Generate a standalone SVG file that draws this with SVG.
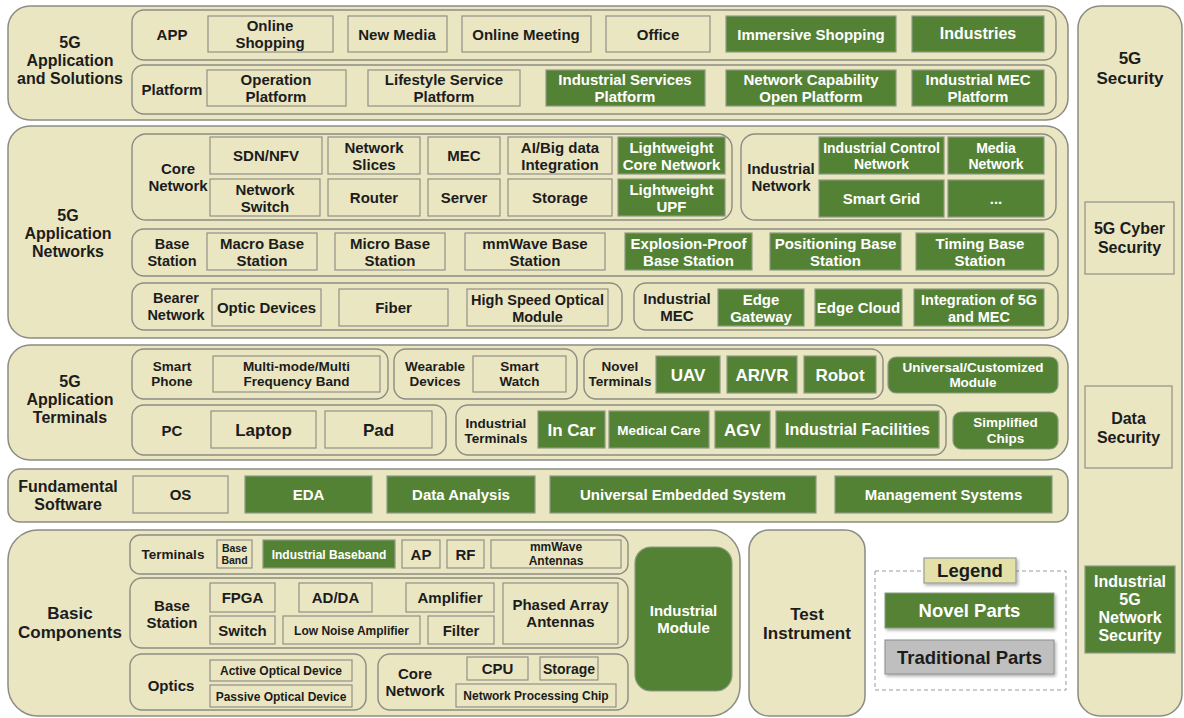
<svg xmlns="http://www.w3.org/2000/svg" width="1184" height="718" viewBox="0 0 1184 718">
<style>
.sec{fill:#EAE6C2;stroke:#8c8c84;stroke-width:1.5}
.row{fill:#EAE6C2;stroke:#8c8c84;stroke-width:1.4}
.box{fill:#EAE6C2;stroke:#919189;stroke-width:1.2}
.g{fill:#548235;stroke:#8c9a84;stroke-width:1.2}
text{font-family:"Liberation Sans",Arial,sans-serif;font-weight:bold;font-size:15px;fill:#1c1c1c;text-anchor:middle}
.w{fill:#ffffff}
.s12{font-size:12px}
.s125{font-size:12.5px}
.s135{font-size:13.5px}
.s14{font-size:14px}
.s145{font-size:14.5px}
.s10{font-size:10.5px}
.s16{font-size:16px}
.s17{font-size:17px}
.s18{font-size:18px}
.s185{font-size:18.5px}
</style>
<defs>
<filter id="sh" x="-10%" y="-10%" width="130%" height="140%">
<feDropShadow dx="1.5" dy="2" stdDeviation="1.5" flood-color="#000" flood-opacity="0.3"/>
</filter>
</defs>
<rect width="1184" height="718" fill="#ffffff"/>

<!-- 5G Application and Solutions -->
<g id="solutions">
<rect class="sec" x="8" y="6" width="1060" height="114" rx="22"/>
<text class="s16"><tspan x="70" y="48">5G</tspan><tspan x="70" y="66">Application</tspan><tspan x="70" y="84">and Solutions</tspan></text>
</g>
<g id="app-row">
<rect class="row" x="132" y="10" width="924" height="50" rx="12"/>
<text x="172" y="40">APP</text>
</g>
<g id="online-shopping"><rect class="box" x="208" y="16" width="125" height="36"/><text><tspan x="270" y="31">Online</tspan><tspan x="270" y="48">Shopping</tspan></text></g>
<g id="new-media"><rect class="box" x="348" y="16" width="99" height="36"/><text x="397" y="39.5">New Media</text></g>
<g id="online-meeting"><rect class="box" x="462" y="16" width="129" height="36"/><text x="526" y="39.5">Online Meeting</text></g>
<g id="office"><rect class="box" x="606" y="16" width="104" height="36"/><text x="658" y="39.5">Office</text></g>
<g id="immersive-shopping"><rect class="g" x="726" y="16" width="170" height="36"/><text class="w" x="811" y="39.5">Immersive Shopping</text></g>
<g id="industries"><rect class="g" x="912" y="16" width="132" height="36"/><text class="w s16" x="978" y="38.5">Industries</text></g>
<g id="platform-row">
<rect class="row" x="132" y="65" width="924" height="49" rx="12"/>
<text x="172" y="94.5">Platform</text>
</g>
<g id="operation-platform"><rect class="box" x="207" y="70" width="139" height="36"/><text><tspan x="276" y="85">Operation</tspan><tspan x="276" y="102">Platform</tspan></text></g>
<g id="lifestyle-platform"><rect class="box" x="368" y="70" width="152" height="36"/><text><tspan x="444" y="85">Lifestyle Service</tspan><tspan x="444" y="102">Platform</tspan></text></g>
<g id="industrial-services-platform"><rect class="g" x="546" y="70" width="159" height="36"/><text class="w"><tspan x="625" y="85">Industrial Services</tspan><tspan x="625" y="102">Platform</tspan></text></g>
<g id="network-capability-platform"><rect class="g" x="726" y="70" width="170" height="36"/><text class="w"><tspan x="811" y="85">Network Capability</tspan><tspan x="811" y="102">Open Platform</tspan></text></g>
<g id="industrial-mec-platform"><rect class="g" x="912" y="70" width="132" height="36"/><text class="w"><tspan x="978" y="85">Industrial MEC</tspan><tspan x="978" y="102">Platform</tspan></text></g>

<!-- 5G Application Networks -->
<g id="networks">
<rect class="sec" x="8" y="126" width="1060" height="212" rx="22"/>
<text class="s16"><tspan x="68" y="221">5G</tspan><tspan x="68" y="239">Application</tspan><tspan x="68" y="257">Networks</tspan></text>
</g>
<g id="core-network-row">
<rect class="row" x="132" y="134" width="600" height="86" rx="14"/>
<text><tspan x="178" y="174">Core</tspan><tspan x="178" y="191">Network</tspan></text>
</g>
<g id="sdn-nfv"><rect class="box" x="210" y="137" width="112" height="37"/><text x="266" y="161">SDN/NFV</text></g>
<g id="network-slices"><rect class="box" x="328" y="137" width="92" height="37"/><text><tspan x="374" y="152.5">Network</tspan><tspan x="374" y="169.5">Slices</tspan></text></g>
<g id="mec"><rect class="box" x="428" y="137" width="72" height="37"/><text x="464" y="161">MEC</text></g>
<g id="ai-bigdata"><rect class="box" x="508" y="137" width="104" height="37"/><text><tspan x="560" y="152.5">AI/Big data</tspan><tspan x="560" y="169.5">Integration</tspan></text></g>
<g id="lightweight-core"><rect class="g" x="618" y="137" width="107" height="37"/><text class="w"><tspan x="671.5" y="152.5">Lightweight</tspan><tspan x="671.5" y="169.5">Core Network</tspan></text></g>
<g id="network-switch"><rect class="box" x="210" y="179" width="110" height="37"/><text><tspan x="265" y="194.5">Network</tspan><tspan x="265" y="211.5">Switch</tspan></text></g>
<g id="router"><rect class="box" x="328" y="179" width="92" height="37"/><text x="374" y="203">Router</text></g>
<g id="server"><rect class="box" x="428" y="179" width="72" height="37"/><text x="464" y="203">Server</text></g>
<g id="storage-net"><rect class="box" x="508" y="179" width="104" height="37"/><text x="560" y="203">Storage</text></g>
<g id="lightweight-upf"><rect class="g" x="618" y="179" width="107" height="37"/><text class="w"><tspan x="671.5" y="194.5">Lightweight</tspan><tspan x="671.5" y="211.5">UPF</tspan></text></g>

<g id="industrial-network-row">
<rect class="row" x="741" y="134" width="315" height="86" rx="14"/>
<text><tspan x="781" y="174">Industrial</tspan><tspan x="781" y="191">Network</tspan></text>
</g>
<g id="industrial-control-network"><rect class="g" x="819" y="137" width="125" height="37"/><text class="w s14"><tspan x="881.5" y="152.5">Industrial Control</tspan><tspan x="881.5" y="169">Network</tspan></text></g>
<g id="media-network"><rect class="g" x="948" y="137" width="96" height="37"/><text class="w s14"><tspan x="996" y="152.5">Media</tspan><tspan x="996" y="169">Network</tspan></text></g>
<g id="smart-grid"><rect class="g" x="819" y="180" width="125" height="37"/><text class="w" x="881.5" y="204">Smart Grid</text></g>
<g id="more-networks"><rect class="g" x="948" y="180" width="96" height="37"/><text class="w" x="996" y="204">...</text></g>

<g id="base-station-row">
<rect class="row" x="132" y="229" width="926" height="47" rx="12"/>
<text class="s145"><tspan x="172" y="248.5">Base</tspan><tspan x="172" y="265.5">Station</tspan></text>
</g>
<g id="macro-bs"><rect class="box" x="207" y="233" width="110" height="37"/><text><tspan x="262" y="248.5">Macro Base</tspan><tspan x="262" y="265.5">Station</tspan></text></g>
<g id="micro-bs"><rect class="box" x="335" y="233" width="110" height="37"/><text><tspan x="390" y="248.5">Micro Base</tspan><tspan x="390" y="265.5">Station</tspan></text></g>
<g id="mmwave-bs"><rect class="box" x="465" y="233" width="140" height="37"/><text><tspan x="535" y="248.5">mmWave Base</tspan><tspan x="535" y="265.5">Station</tspan></text></g>
<g id="explosion-proof-bs"><rect class="g" x="625" y="233" width="127" height="37"/><text class="w"><tspan x="688.5" y="248.5">Explosion-Proof</tspan><tspan x="688.5" y="265.5">Base Station</tspan></text></g>
<g id="positioning-bs"><rect class="g" x="770" y="233" width="131" height="37"/><text class="w"><tspan x="835.5" y="248.5">Positioning Base</tspan><tspan x="835.5" y="265.5">Station</tspan></text></g>
<g id="timing-bs"><rect class="g" x="916" y="233" width="128" height="37"/><text class="w"><tspan x="980" y="248.5">Timing Base</tspan><tspan x="980" y="265.5">Station</tspan></text></g>

<g id="bearer-row">
<rect class="row" x="132" y="283" width="490" height="47" rx="12"/>
<text class="s145"><tspan x="176" y="303">Bearer</tspan><tspan x="176" y="320">Network</tspan></text>
</g>
<g id="optic-devices"><rect class="box" x="212" y="289" width="109" height="37"/><text x="266.5" y="313">Optic Devices</text></g>
<g id="fiber"><rect class="box" x="339" y="289" width="109" height="37"/><text x="393.5" y="313">Fiber</text></g>
<g id="hs-optical-module"><rect class="box" x="467" y="289" width="141" height="37"/><text class="s145"><tspan x="537.5" y="304.5">High Speed Optical</tspan><tspan x="537.5" y="321.5">Module</tspan></text></g>

<g id="industrial-mec-row">
<rect class="row" x="634" y="283" width="424" height="47" rx="12"/>
<text><tspan x="677" y="303.5">Industrial</tspan><tspan x="677" y="320.5">MEC</tspan></text>
</g>
<g id="edge-gateway"><rect class="g" x="718" y="289" width="86" height="37"/><text class="w"><tspan x="761" y="304.5">Edge</tspan><tspan x="761" y="321.5">Gateway</tspan></text></g>
<g id="edge-cloud"><rect class="g" x="815" y="289" width="87" height="37"/><text class="w" x="858.5" y="313">Edge Cloud</text></g>
<g id="integration-5g-mec"><rect class="g" x="914" y="289" width="130" height="37"/><text class="w s145"><tspan x="979" y="304.5">Integration of 5G</tspan><tspan x="979" y="321.5">and MEC</tspan></text></g>

<!-- 5G Application Terminals -->
<g id="terminals">
<rect class="sec" x="8" y="345" width="1060" height="115" rx="22"/>
<text class="s16"><tspan x="70" y="387">5G</tspan><tspan x="70" y="405">Application</tspan><tspan x="70" y="423">Terminals</tspan></text>
</g>
<g id="smart-phone-row">
<rect class="row" x="132" y="349" width="256" height="50" rx="12"/>
<text class="s135"><tspan x="172" y="370.5">Smart</tspan><tspan x="172" y="386">Phone</tspan></text>
</g>
<g id="multi-mode"><rect class="box" x="213" y="356" width="167" height="36"/><text class="s135"><tspan x="296.5" y="370.5">Multi-mode/Multi</tspan><tspan x="296.5" y="386">Frequency Band</tspan></text></g>
<g id="wearable-row">
<rect class="row" x="394" y="349" width="183" height="50" rx="12"/>
<text class="s135"><tspan x="435" y="370.5">Wearable</tspan><tspan x="435" y="386">Devices</tspan></text>
</g>
<g id="smart-watch"><rect class="box" x="473" y="356" width="93" height="36"/><text class="s135"><tspan x="519.5" y="370.5">Smart</tspan><tspan x="519.5" y="386">Watch</tspan></text></g>
<g id="novel-terminals-row">
<rect class="row" x="584" y="349" width="299" height="50" rx="12"/>
<text class="s135"><tspan x="620" y="370.5">Novel</tspan><tspan x="620" y="386">Terminals</tspan></text>
</g>
<g id="uav"><rect class="g" x="656" y="356" width="64" height="37"/><text class="w s17" x="688" y="380.5">UAV</text></g>
<g id="ar-vr"><rect class="g" x="727" y="356" width="70" height="37"/><text class="w s17" x="762" y="380.5">AR/VR</text></g>
<g id="robot"><rect class="g" x="804" y="356" width="72" height="37"/><text class="w s17" x="840" y="380.5">Robot</text></g>
<g id="universal-module"><rect class="g" x="888" y="357" width="170" height="36" rx="8"/><text class="w s135"><tspan x="973" y="371.5">Universal/Customized</tspan><tspan x="973" y="387">Module</tspan></text></g>
<g id="pc-row">
<rect class="row" x="132" y="405" width="314" height="50" rx="12"/>
<text x="172" y="435.5">PC</text>
</g>
<g id="laptop"><rect class="box" x="211" y="411" width="105" height="37"/><text class="s17" x="263.5" y="435.5">Laptop</text></g>
<g id="pad"><rect class="box" x="325" y="411" width="107" height="37"/><text class="s17" x="378.5" y="435.5">Pad</text></g>
<g id="industrial-terminals-row">
<rect class="row" x="456" y="405" width="490" height="50" rx="12"/>
<text class="s135"><tspan x="496" y="427.5">Industrial</tspan><tspan x="496" y="443">Terminals</tspan></text>
</g>
<g id="in-car"><rect class="g" x="538" y="411" width="67" height="37"/><text class="w s17" x="571.5" y="435.5">In Car</text></g>
<g id="medical-care"><rect class="g" x="609" y="411" width="100" height="37"/><text class="w s135" x="659" y="434.5">Medical Care</text></g>
<g id="agv"><rect class="g" x="715" y="411" width="55" height="37"/><text class="w s17" x="742.5" y="435.5">AGV</text></g>
<g id="industrial-facilities"><rect class="g" x="776" y="411" width="163" height="37"/><text class="w s16" x="857.5" y="435">Industrial Facilities</text></g>
<g id="simplified-chips"><rect class="g" x="953" y="412" width="105" height="37" rx="8"/><text class="w s135"><tspan x="1005.5" y="427">Simplified</tspan><tspan x="1005.5" y="442.5">Chips</tspan></text></g>

<!-- Fundamental Software -->
<g id="fundamental-software">
<rect class="sec" x="8" y="469" width="1060" height="53" rx="12"/>
<text class="s16"><tspan x="68" y="492">Fundamental</tspan><tspan x="68" y="510">Software</tspan></text>
</g>
<g id="os"><rect class="box" x="133" y="476" width="95" height="37"/><text x="180.5" y="500">OS</text></g>
<g id="eda"><rect class="g" x="245" y="476" width="127" height="37"/><text class="w" x="308.5" y="500">EDA</text></g>
<g id="data-analysis"><rect class="g" x="387" y="476" width="148" height="37"/><text class="w" x="461" y="500">Data Analysis</text></g>
<g id="universal-embedded"><rect class="g" x="550" y="476" width="266" height="37"/><text class="w" x="683" y="500">Universal Embedded System</text></g>
<g id="management-systems"><rect class="g" x="835" y="476" width="217" height="37"/><text class="w" x="943.5" y="500">Management Systems</text></g>

<!-- Basic Components -->
<g id="basic-components">
<rect class="sec" x="8" y="530" width="732" height="186" rx="30"/>
<text class="s17"><tspan x="70" y="619">Basic</tspan><tspan x="70" y="638">Components</tspan></text>
</g>
<g id="bc-terminals-row">
<rect class="row" x="130" y="535" width="498" height="39" rx="10"/>
<text class="s135" x="173" y="558.5">Terminals</text>
</g>
<g id="base-band"><rect class="box" x="217" y="540" width="35" height="28"/><text class="s10"><tspan x="234.5" y="551.5">Base</tspan><tspan x="234.5" y="563.5">Band</tspan></text></g>
<g id="industrial-baseband"><rect class="g" x="263" y="540" width="132" height="28"/><text class="w s12" x="329" y="558.5">Industrial Baseband</text></g>
<g id="ap"><rect class="box" x="402" y="540" width="38" height="28"/><text x="421" y="559.5">AP</text></g>
<g id="rf"><rect class="box" x="447" y="540" width="37" height="28"/><text x="465.5" y="559.5">RF</text></g>
<g id="mmwave-antennas"><rect class="box" x="491" y="540" width="130" height="28"/><text class="s12"><tspan x="556" y="551">mmWave</tspan><tspan x="556" y="565">Antennas</tspan></text></g>
<g id="bc-base-station-row">
<rect class="row" x="130" y="578" width="498" height="70" rx="12"/>
<text><tspan x="172" y="611">Base</tspan><tspan x="172" y="628">Station</tspan></text>
</g>
<g id="fpga"><rect class="box" x="210" y="583" width="65" height="29"/><text x="242.5" y="603">FPGA</text></g>
<g id="ad-da"><rect class="box" x="299" y="583" width="73" height="29"/><text x="335.5" y="603">AD/DA</text></g>
<g id="amplifier"><rect class="box" x="406" y="583" width="88" height="29"/><text x="450" y="603">Amplifier</text></g>
<g id="switch"><rect class="box" x="210" y="616" width="65" height="28"/><text x="242.5" y="635.5">Switch</text></g>
<g id="lna"><rect class="box" x="283" y="616" width="137" height="28"/><text class="s12" x="351.5" y="634.5">Low Noise Amplifier</text></g>
<g id="filter"><rect class="box" x="428" y="616" width="66" height="28"/><text x="461" y="635.5">Filter</text></g>
<g id="phased-array"><rect class="box" x="503" y="583" width="115" height="61"/><text><tspan x="560.5" y="610">Phased Array</tspan><tspan x="560.5" y="627">Antennas</tspan></text></g>
<g id="optics-row">
<rect class="row" x="130" y="654" width="236" height="56" rx="12"/>
<text x="171" y="690.5">Optics</text>
</g>
<g id="active-optical"><rect class="box" x="210" y="660" width="142" height="21"/><text class="s12" x="281" y="674.5">Active Optical Device</text></g>
<g id="passive-optical"><rect class="box" x="210" y="685" width="142" height="22"/><text class="s12" x="281" y="700.5">Passive Optical Device</text></g>
<g id="bc-core-network-row">
<rect class="row" x="378" y="654" width="250" height="56" rx="12"/>
<text><tspan x="415" y="679">Core</tspan><tspan x="415" y="696">Network</tspan></text>
</g>
<g id="cpu"><rect class="box" x="467" y="657" width="61" height="23"/><text x="497.5" y="674">CPU</text></g>
<g id="storage-bc"><rect class="box" x="540" y="657" width="58" height="23"/><text class="s14" x="569" y="673.5">Storage</text></g>
<g id="npc"><rect class="box" x="456" y="684" width="160" height="23"/><text class="s12" x="536" y="700">Network Processing Chip</text></g>
<g id="industrial-module"><rect class="g" x="635" y="547" width="97" height="144" rx="16"/><text class="w"><tspan x="683.5" y="616">Industrial</tspan><tspan x="683.5" y="633">Module</tspan></text></g>

<!-- Test Instrument -->
<g id="test-instrument">
<rect class="sec" x="749" y="530" width="116" height="186" rx="20"/>
<text class="s17"><tspan x="807" y="620">Test</tspan><tspan x="807" y="639">Instrument</tspan></text>
</g>

<!-- Legend -->
<g id="legend">
<rect x="875" y="571" width="191" height="119" fill="none" stroke="#9a9a9a" stroke-width="1" stroke-dasharray="4,3"/>
<rect x="924" y="558" width="92" height="25" fill="#E4E1A8" stroke="#9a9a9a" stroke-width="1.2" filter="url(#sh)"/>
<text class="s185" x="970" y="577">Legend</text>
</g>
<g id="legend-novel"><rect x="885" y="593" width="169" height="35" fill="#548235" stroke="#8c9a84" stroke-width="1" filter="url(#sh)"/><text class="w s185" x="969.5" y="617">Novel Parts</text></g>
<g id="legend-traditional"><rect x="885" y="640" width="169" height="34" fill="#BFBFBF" stroke="#8c8c8c" stroke-width="1" filter="url(#sh)"/><text class="s185" x="969.5" y="663.5">Traditional Parts</text></g>

<!-- 5G Security -->
<g id="security">
<rect class="sec" x="1078" y="6" width="104" height="710" rx="22"/>
<text class="s17"><tspan x="1130" y="64">5G</tspan><tspan x="1130" y="84">Security</tspan></text>
</g>
<g id="cyber-security"><rect class="box" x="1085" y="202" width="89" height="72"/><text class="s16"><tspan x="1129.5" y="234">5G Cyber</tspan><tspan x="1129.5" y="253">Security</tspan></text></g>
<g id="data-security"><rect class="box" x="1085" y="386" width="87" height="82"/><text class="s16"><tspan x="1128.5" y="424">Data</tspan><tspan x="1128.5" y="443">Security</tspan></text></g>
<g id="industrial-5g-security"><rect class="g" x="1085" y="566" width="90" height="87"/><text class="w s16"><tspan x="1130" y="587">Industrial</tspan><tspan x="1130" y="605">5G</tspan><tspan x="1130" y="623">Network</tspan><tspan x="1130" y="641">Security</tspan></text></g>

<g id="connectors"></g>
</svg>
